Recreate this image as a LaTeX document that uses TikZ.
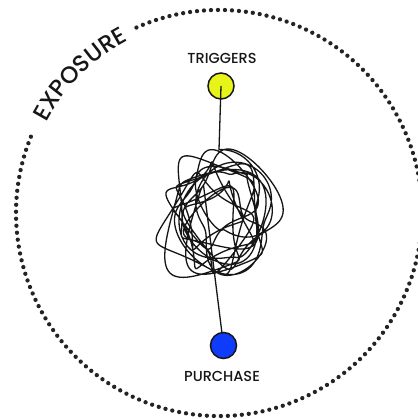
\documentclass[tikz,border=0pt]{standalone}
\usepackage{fontspec}
\setmainfont{Poppins}[UprightFont=* Medium]
\usepackage{tikz}
\usetikzlibrary{positioning,decorations.text}
\definecolor{mydot}{RGB}{35,35,35}
\definecolor{myink}{RGB}{22,22,22}
\definecolor{myyellow}{RGB}{230,244,25}
\definecolor{myblue}{RGB}{15,60,250}

\begin{document}
\begin{tikzpicture}[x=1pt, y=1pt,
  stage/.style={circle, draw=myink, line width=1.5pt, minimum size=26pt, inner sep=0pt},
  tag/.style={font=\fontsize{14.5}{14.5}\selectfont, text=myink}]
  \useasboundingbox[fill=white] (0,0) rectangle (417,419);
  \coordinate (centre) at (219,206);
  % exposure ring
  \draw[mydot, line width=4.3pt, line cap=round, dash pattern=on 0pt off 7pt]
    (centre) ++(114:203) arc[start angle=114, end angle=-204, radius=203];
  \path[decorate, decoration={text along path, text align=center, text color=myink,
      text={|\fontsize{23.5}{23.5}\selectfont|EXPOSURE}}]
    (centre) ++(156:195) arc[start angle=156, end angle=114, radius=195];
  % stages
  \node[stage, fill=myyellow] (trig) at (221,333) {};
  \node[tag] (trigtxt) at (222,361) {TRIGGERS};
  \node[stage, fill=myblue] (purch) at (223.5,73.5) {};
  \node[tag] (purchtxt) at (222,43) {PURCHASE};
  % the tangle
  \draw[myink, line width=1.3pt, line join=round]
    (trig) -- plot[smooth, domain=0:5000, samples=1400, variable=\t]
      ({219+(37+8*sin(0.31*\t))*sin(\t)+14*sin(0.23*\t)+9*sin(2.7*\t)},
       {203+1.2*(37+8*sin(0.31*\t))*cos(\t)+14*cos(0.17*\t)+8*cos(2.9*\t)})
    -- (purch);
\end{tikzpicture}
\end{document}
